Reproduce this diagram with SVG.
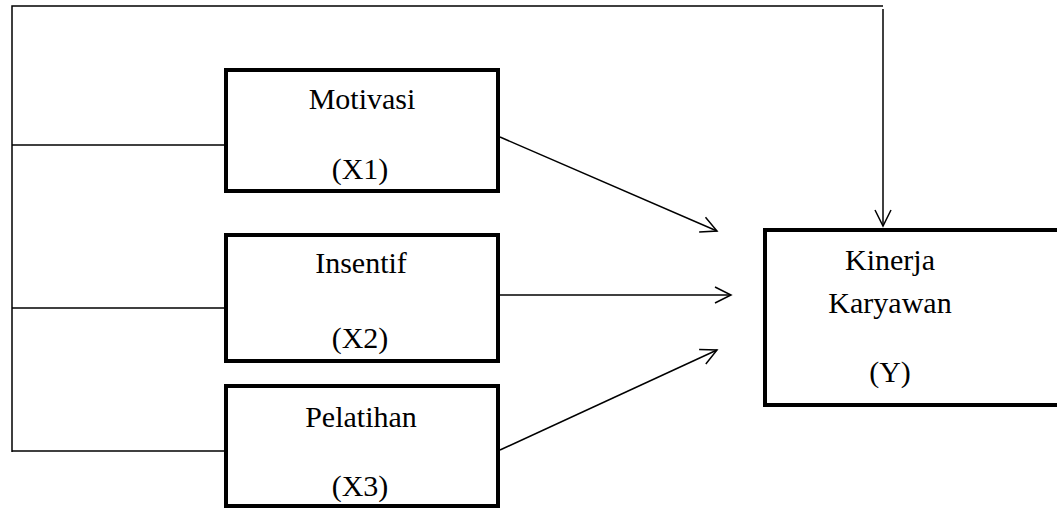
<svg xmlns="http://www.w3.org/2000/svg" width="1057" height="509" viewBox="0 0 1057 509">
<style>
.box{fill:#fff;stroke:#000;stroke-width:4}
.ln{fill:none;stroke:#000;stroke-width:1.5}
.t{font-family:"Liberation Serif","DejaVu Serif",serif;font-size:30px;fill:#000;text-anchor:middle}
</style>
<defs>
<marker id="ah" markerUnits="userSpaceOnUse" markerWidth="20" markerHeight="20" refX="17" refY="9" orient="auto" viewBox="0 0 20 18">
<path d="M1,1 L17,9 L1,17" fill="none" stroke="#000" stroke-width="1.5"/>
</marker>
</defs>
<g id="connectors">
<polyline class="ln" points="12,452 12,6 883,6"/>
<line class="ln" x1="883" y1="9" x2="883" y2="226" marker-end="url(#ah)"/>
<line class="ln" x1="12" y1="145" x2="224" y2="145"/>
<line class="ln" x1="12" y1="308" x2="224" y2="308"/>
<line class="ln" x1="12" y1="451" x2="224" y2="451"/>
<line class="ln" x1="500" y1="137" x2="717" y2="231" marker-end="url(#ah)"/>
<line class="ln" x1="500" y1="295" x2="731" y2="295" marker-end="url(#ah)"/>
<line class="ln" x1="500" y1="450" x2="717" y2="350" marker-end="url(#ah)"/>
</g>
<g id="motivasi">
<rect class="box" x="226" y="70" width="272" height="121"/>
<text class="t" x="362" y="109">Motivasi</text>
<text class="t" x="360" y="179">(X1)</text>
</g>
<g id="insentif">
<rect class="box" x="226" y="235" width="272" height="126"/>
<text class="t" x="361" y="273">Insentif</text>
<text class="t" x="360" y="348">(X2)</text>
</g>
<g id="pelatihan">
<rect class="box" x="226" y="386" width="272" height="120"/>
<text class="t" x="361" y="427">Pelatihan</text>
<text class="t" x="360" y="496">(X3)</text>
</g>
<g id="kinerja">
<rect class="box" x="765" y="230" width="310" height="175"/>
<text class="t" x="890" y="270">Kinerja</text>
<text class="t" x="890" y="313">Karyawan</text>
<text class="t" x="890" y="382">(Y)</text>
</g>
</svg>
